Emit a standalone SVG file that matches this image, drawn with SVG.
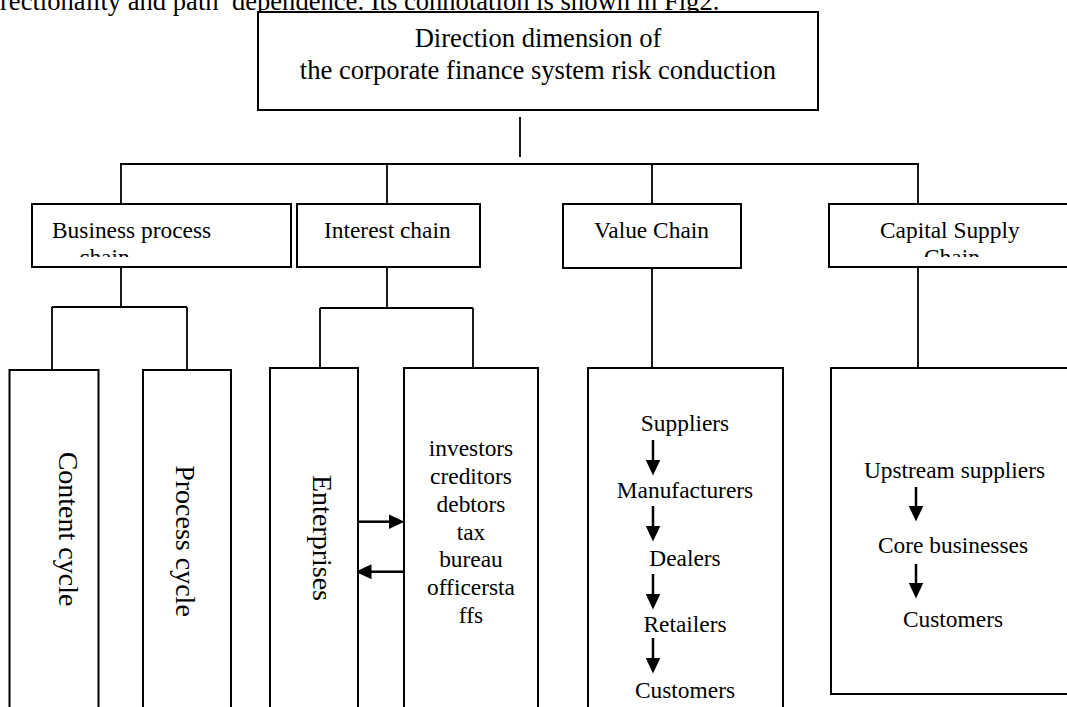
<svg xmlns="http://www.w3.org/2000/svg" width="1067" height="707" viewBox="0 0 1067 707">
  <style>
    .box { fill: #fff; stroke: #000; stroke-width: 2; }
    .ln { fill: none; stroke: #000; stroke-width: 1.8; }
    .arr { fill: none; stroke: #000; stroke-width: 2.5; marker-end: url(#ah); }
    text { font-family: "Liberation Serif", "Times New Roman", serif; fill: #000; }
    .big { font-size: 26.6px; }
    .vert { font-size: 28px; }
    .small { font-size: 23.4px; }
    .mid { text-anchor: middle; }
  </style>
  <defs>
    <marker id="ah" markerUnits="userSpaceOnUse" viewBox="0 0 16 15" markerWidth="16" markerHeight="15" refX="0.5" refY="7.5" orient="auto">
      <path d="M0,0 L16,7.5 L0,15 z" fill="#000"/>
    </marker>
    <clipPath id="clip-bpc"><rect x="32" y="204" width="259" height="53"/></clipPath>
    <clipPath id="clip-csc"><rect x="829" y="204" width="240" height="53"/></clipPath>
  </defs>

  <!-- running body text above the figure -->
  <text class="big" x="0" y="10" style="white-space:pre">rectionality and path  dependence. Its connotation is shown in Fig2.</text>

  <!-- tree connectors -->
  <g id="connectors">
    <line class="ln" x1="520" y1="117" x2="520" y2="157"/>
    <line class="ln" x1="120" y1="164" x2="919" y2="164"/>
    <line class="ln" x1="121" y1="164" x2="121" y2="204"/>
    <line class="ln" x1="387" y1="164" x2="387" y2="204"/>
    <line class="ln" x1="652" y1="164" x2="652" y2="204"/>
    <line class="ln" x1="918" y1="164" x2="918" y2="204"/>

    <line class="ln" x1="121" y1="267" x2="121" y2="307"/>
    <line class="ln" x1="52" y1="307" x2="187" y2="307"/>
    <line class="ln" x1="52" y1="307" x2="52" y2="370"/>
    <line class="ln" x1="187" y1="307" x2="187" y2="370"/>

    <line class="ln" x1="387" y1="267" x2="387" y2="308"/>
    <line class="ln" x1="320" y1="308" x2="473" y2="308"/>
    <line class="ln" x1="320" y1="308" x2="320" y2="368"/>
    <line class="ln" x1="473" y1="308" x2="473" y2="368"/>

    <line class="ln" x1="652" y1="268" x2="652" y2="368"/>
    <line class="ln" x1="918" y1="267" x2="918" y2="368"/>

    <!-- exchange between enterprises and stakeholders -->
    <line class="arr" x1="357" y1="521.7" x2="389" y2="521.7"/>
    <line class="arr" x1="403" y1="571.7" x2="371" y2="571.7"/>
  </g>

  <g id="node-root">
    <rect class="box" x="258" y="12" width="560" height="98"/>
    <text class="big mid" x="538" y="46.7">Direction dimension of</text>
    <text class="big mid" x="538" y="79.3">the corporate finance system risk conduction</text>
  </g>

  <g id="node-business-process">
    <rect class="box" x="32" y="204" width="259" height="63"/>
    <g clip-path="url(#clip-bpc)">
      <text class="small" x="52" y="238">Business process</text>
      <text class="small" x="79" y="265">chain</text>
    </g>
  </g>

  <g id="node-interest">
    <rect class="box" x="297" y="204" width="183" height="63"/>
    <text class="small" x="324" y="238">Interest chain</text>
  </g>

  <g id="node-value">
    <rect class="box" x="563" y="204" width="178" height="64"/>
    <text class="small" x="594" y="238">Value Chain</text>
  </g>

  <g id="node-capital">
    <rect class="box" x="829" y="204" width="260" height="63"/>
    <g clip-path="url(#clip-csc)">
      <text class="small" x="880" y="238">Capital Supply</text>
      <text class="small" x="924" y="265">Chain</text>
    </g>
  </g>

  <g id="node-content-cycle">
    <rect class="box" x="9.5" y="370" width="89" height="350"/>
    <text class="vert mid" transform="translate(59,529) rotate(90)">Content cycle</text>
  </g>

  <g id="node-process-cycle">
    <rect class="box" x="143" y="370" width="88" height="350"/>
    <text class="vert mid" transform="translate(176,541) rotate(90)">Process cycle</text>
  </g>

  <g id="node-enterprises">
    <rect class="box" x="270" y="368" width="88" height="352"/>
    <text class="vert mid" transform="translate(313,538) rotate(90)">Enterprises</text>
  </g>

  <g id="node-stakeholders">
    <rect class="box" x="404" y="368" width="134" height="352"/>
    <text class="small mid" x="471" y="456">investors</text>
    <text class="small mid" x="471" y="484">creditors</text>
    <text class="small mid" x="471" y="512">debtors</text>
    <text class="small mid" x="471" y="540">tax</text>
    <text class="small mid" x="471" y="567">bureau</text>
    <text class="small mid" x="471" y="595">officersta</text>
    <text class="small mid" x="471" y="623">ffs</text>
  </g>

  <g id="node-value-detail">
    <rect class="box" x="588" y="368" width="195" height="352"/>
    <text class="small mid" x="685" y="430.5">Suppliers</text>
    <text class="small mid" x="685" y="498">Manufacturers</text>
    <text class="small mid" x="685" y="565.5">Dealers</text>
    <text class="small mid" x="685" y="631.5">Retailers</text>
    <text class="small mid" x="685" y="698">Customers</text>
    <line class="arr" x1="653" y1="440" x2="653" y2="460"/>
    <line class="arr" x1="653" y1="506" x2="653" y2="526"/>
    <line class="arr" x1="653" y1="574" x2="653" y2="594"/>
    <line class="arr" x1="653" y1="638" x2="653" y2="658"/>
  </g>

  <g id="node-capital-detail">
    <rect class="box" x="831" y="368" width="260" height="326"/>
    <text class="small mid" x="954.5" y="478">Upstream suppliers</text>
    <text class="small mid" x="953" y="553">Core businesses</text>
    <text class="small mid" x="953" y="626.5">Customers</text>
    <line class="arr" x1="916" y1="487" x2="916" y2="506"/>
    <line class="arr" x1="916" y1="564" x2="916" y2="583"/>
  </g>
</svg>
